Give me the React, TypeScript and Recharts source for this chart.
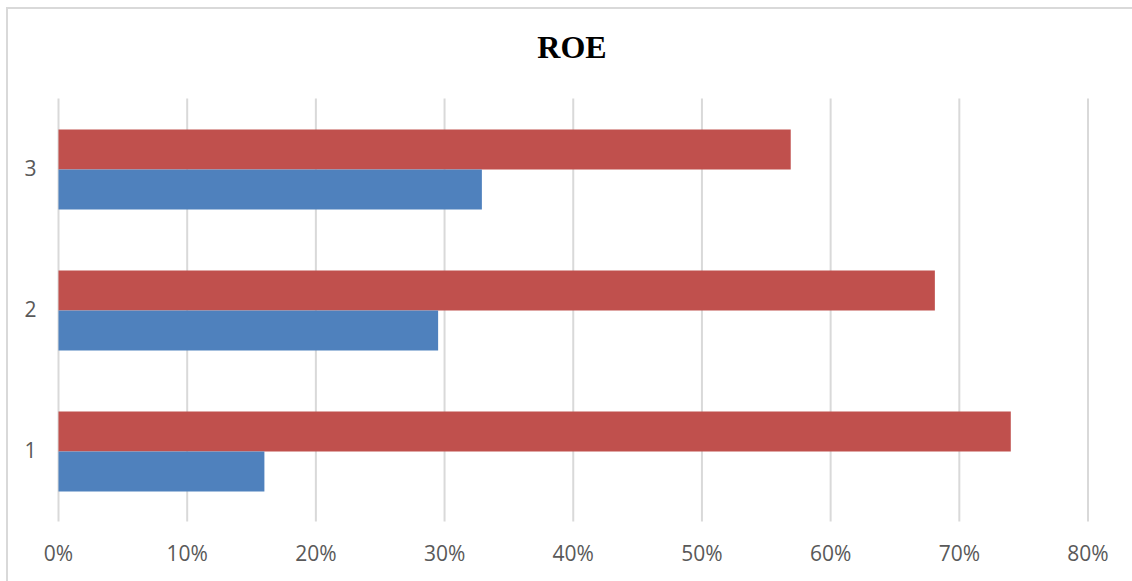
import { BarChart, Bar, XAxis, YAxis, CartesianGrid } from "recharts";

// categories listed bottom-up, the axis is reversed so "1" sits at the bottom
const categories = ["1", "2", "3"];
const seriesBlue = [0.16, 0.295, 0.329];
const seriesRed = [0.74, 0.681, 0.569];
const xTicks = [0, 0.1, 0.2, 0.3, 0.4, 0.5, 0.6, 0.7, 0.8];

const data = categories.map((c, i) => ({ name: c, blue: seriesBlue[i], red: seriesRed[i] }));

const tickStyle = { fontFamily: "'Open Sans', sans-serif", fontSize: 21, fill: "#595959" };

export default function App() {
  return (
    <div style={{ position: "absolute", left: 0, top: 0, width: 1132, height: 581, overflow: "hidden", background: "#fff" }}>
      {/* chart frame, only top and left edges fall inside the view */}
      <div
        style={{
          position: "absolute",
          left: 6,
          top: 7,
          width: 1160,
          height: 600,
          border: "2px solid #d9d9d9",
          boxSizing: "border-box",
        }}
      />
      <div
        style={{
          position: "absolute",
          left: 0,
          top: 27,
          width: 1144,
          textAlign: "center",
          fontFamily: "'Liberation Serif', 'Times New Roman', serif",
          fontWeight: "bold",
          fontSize: 32,
          color: "#000",
          lineHeight: "40px",
        }}
      >
        ROE
      </div>
      <div style={{ position: "absolute", left: 0, top: 0 }}>
        <BarChart
          width={1132}
          height={581}
          data={data}
          layout="vertical"
          margin={{ top: 98.5, right: 44, left: 0, bottom: 0 }}
          barGap={0}
        >
          <CartesianGrid horizontal={false} stroke="#d9d9d9" strokeWidth={2} />
          <XAxis
            type="number"
            domain={[0, 0.8]}
            ticks={xTicks}
            tickFormatter={(v: number) => `${Math.round(v * 100)}%`}
            axisLine={false}
            tickLine={false}
            tickSize={0}
            tickMargin={25}
            height={59.5}
            tick={tickStyle}
            interval={0}
          />
          <YAxis
            type="category"
            dataKey="name"
            reversed
            axisLine={false}
            tickLine={false}
            tickSize={0}
            tickMargin={22}
            width={58.5}
            tick={tickStyle}
          />
          <Bar dataKey="red" fill="#C0504D" barSize={40} isAnimationActive={false} />
          <Bar dataKey="blue" fill="#4F81BD" barSize={40} isAnimationActive={false} />
        </BarChart>
      </div>
    </div>
  );
}
